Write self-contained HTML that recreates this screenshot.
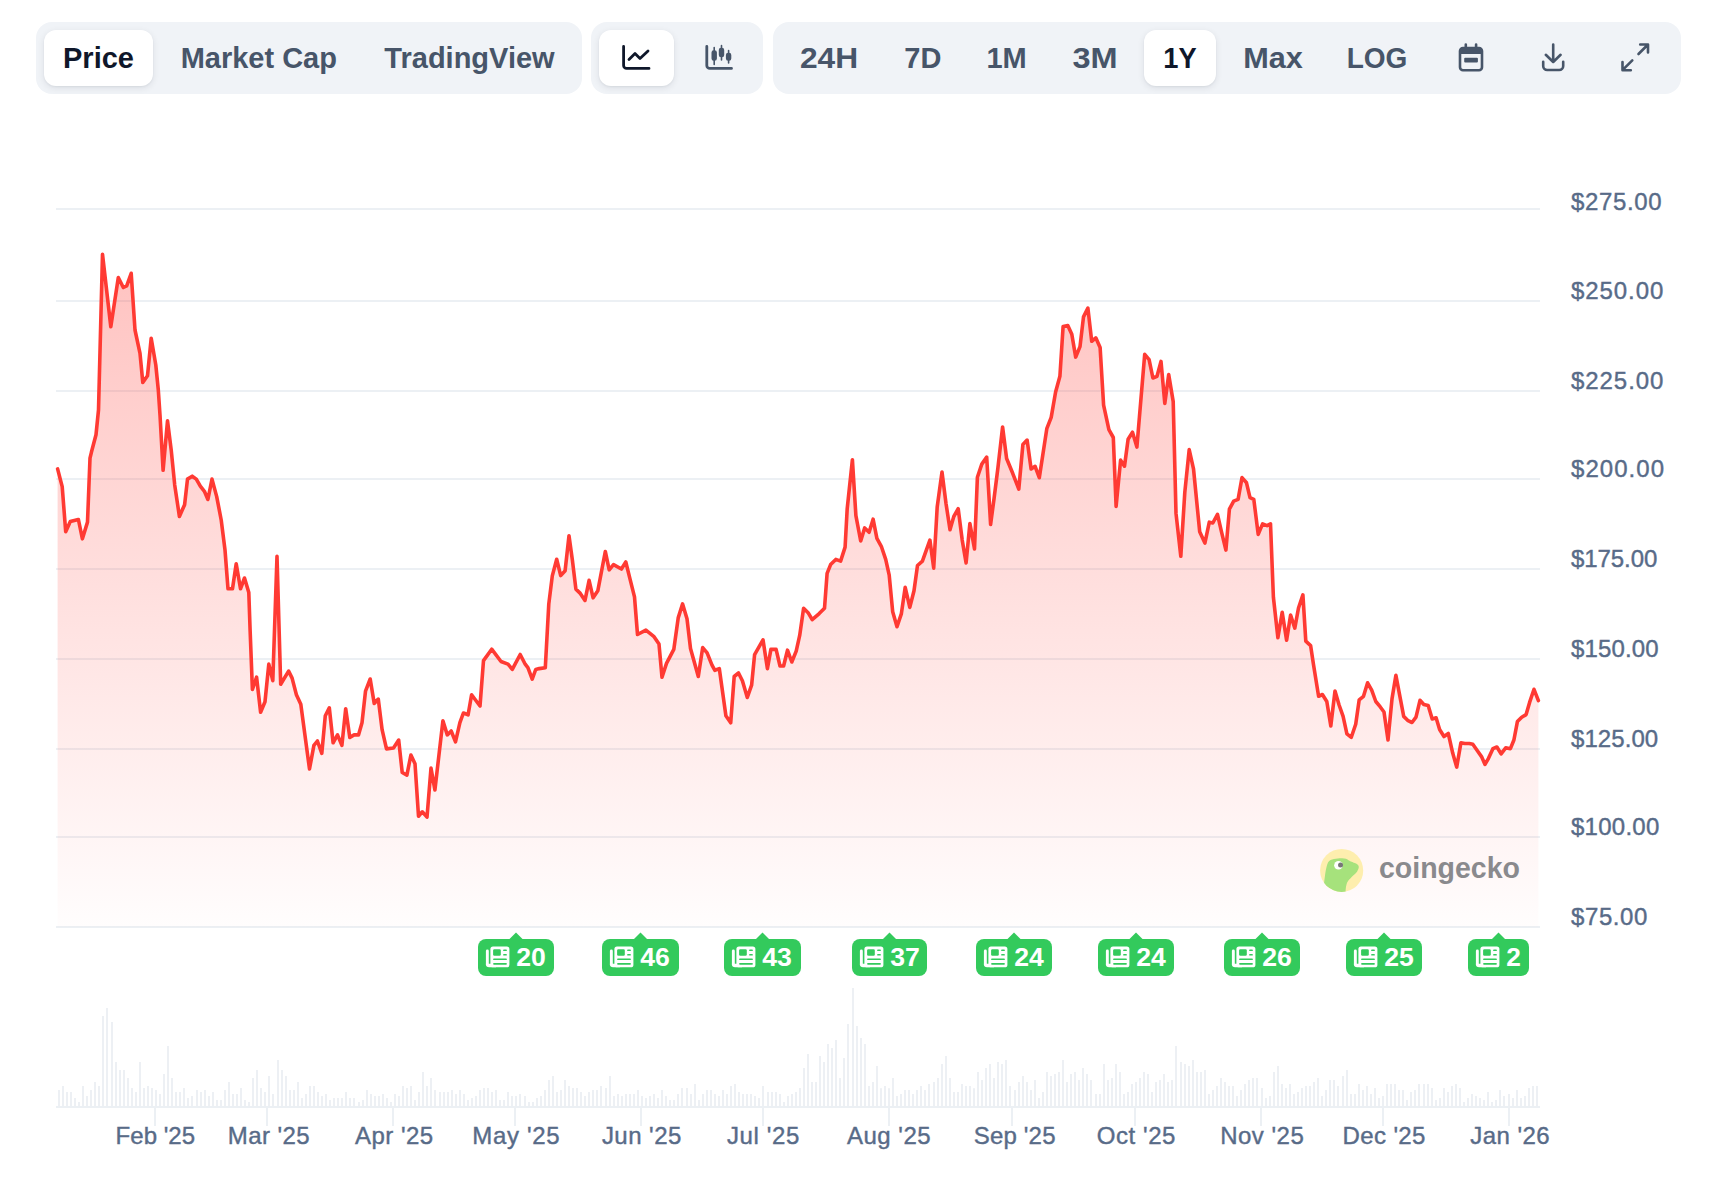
<!DOCTYPE html>
<html><head><meta charset="utf-8">
<style>
*{box-sizing:border-box;margin:0;padding:0}
html,body{width:1716px;height:1184px;background:#fff;overflow:hidden}
body{position:relative;font-family:"Liberation Sans",sans-serif}
.grp{position:absolute;top:22px;height:72px;background:#f0f3f7;border-radius:16px}
.sel{position:absolute;top:30px;height:56px;background:#fff;border-radius:12px;box-shadow:0 2px 7px rgba(15,23,42,0.09),0 1px 2px rgba(15,23,42,0.05)}
.t{position:absolute;top:37.8px;height:40px;line-height:40px;font-size:29px;font-weight:700;color:#475569;white-space:nowrap;transform:translateX(-50%)}
.t.on{color:#0f172a}
.ic{position:absolute}
svg.ch{position:absolute;left:0;top:0}
.yl{font-size:24px;fill:#586b88;stroke:#586b88;stroke-width:0.4px}
.xl{font-size:24px;fill:#586b88;stroke:#586b88;stroke-width:0.4px}
.bt{font-size:25px;font-weight:700;fill:#fff}
.logo{font-size:29.5px;font-weight:700;fill:#8a8a8d}
</style></head><body>
<div class="grp" style="left:36px;width:546px"></div>
<div class="grp" style="left:591px;width:172px"></div>
<div class="grp" style="left:773px;width:908px"></div>
<div class="sel" style="left:44px;width:109px"></div>
<div class="sel" style="left:599px;width:75px"></div>
<div class="sel" style="left:1144px;width:72px"></div>
<div class="t on" style="left:98.5px">Price</div>
<div class="t" style="left:258.8px">Market Cap</div>
<div class="t" style="left:469.5px">TradingView</div>
<div class="t" style="left:829px;transform:translateX(-50%) scaleX(1.094)">24H</div>
<div class="t" style="left:922.8px">7D</div>
<div class="t" style="left:1006.6px">1M</div>
<div class="t" style="left:1095px;transform:translateX(-50%) scaleX(1.12)">3M</div>
<div class="t on" style="left:1179.5px;transform:translateX(-50%) scaleX(0.94)">1Y</div>
<div class="t" style="left:1272.6px;transform:translateX(-50%) scaleX(1.057)">Max</div>
<div class="t" style="left:1377px;transform:translateX(-50%) scaleX(0.966)">LOG</div>
<svg class="ic" style="left:0;top:0" width="1716" height="100" viewBox="0 0 1716 100">
 <g fill="none" stroke="#0f172a" stroke-width="2.8" stroke-linecap="round" stroke-linejoin="round">
  <path d="M623.6,46.5 V65.4 a3,3 0 0 0 3,3 H649"/>
  <path d="M629,59.5 L635,53.5 L640,58.5 L648,51"/>
 </g>
 <g fill="none" stroke="#475569" stroke-width="2.8" stroke-linecap="round" stroke-linejoin="round">
  <path d="M706.8,46.5 V65.4 a3,3 0 0 0 3,3 H731.5"/>
 </g>
 <g fill="#475569" stroke="#475569" stroke-width="1.6" stroke-linecap="round">
  <path d="M714.2,47.5 V64.5 M721.5,45.5 V60 M728.6,50.5 V63"/>
  <rect x="712.3" y="51" width="3.8" height="9" rx="1.5"/>
  <rect x="719.6" y="48.5" width="3.8" height="8" rx="1.5"/>
  <rect x="726.7" y="53.5" width="3.8" height="6.5" rx="1.5"/>
 </g>
 <g fill="none" stroke="#475569" stroke-width="2.6" stroke-linecap="round" stroke-linejoin="round">
  <rect x="1460" y="48" width="22" height="22.2" rx="3"/>
  <path d="M1465.8,44.5 V48 M1476.1,44.5 V48"/>
  <path d="M1553.2,44.5 V61.5 M1545.8,54.8 L1553.2,62 L1560.6,54.8"/>
  <path d="M1543.2,61.8 V66 a4,4 0 0 0 4,4 H1559.2 a4,4 0 0 0 4,-4 V61.8"/>
  <path d="M1640.2,44.5 H1648 V52.5 M1647.5,45 L1638.5,54"/>
  <path d="M1622.5,62 V70.2 H1630.8 M1623,69.7 L1632.3,60.3"/>
 </g>
 <rect x="1460" y="48" width="22" height="6" fill="#475569"/>
 <rect x="1464.2" y="57.7" width="13.7" height="4.9" rx="1" fill="#475569"/>
</svg>
<svg class="ch" width="1716" height="1184" viewBox="0 0 1716 1184">
<defs><linearGradient id="ag" x1="0" y1="254" x2="0" y2="927" gradientUnits="userSpaceOnUse">
<stop offset="0" stop-color="#ff3a33" stop-opacity="0.31"/><stop offset="1" stop-color="#ff3a33" stop-opacity="0.01"/></linearGradient></defs>
<rect x="56" y="208" width="1484" height="2" fill="#ecf0f4"/>
<rect x="56" y="300" width="1484" height="2" fill="#ecf0f4"/>
<rect x="56" y="390" width="1484" height="2" fill="#ecf0f4"/>
<rect x="56" y="478" width="1484" height="2" fill="#ecf0f4"/>
<rect x="56" y="568" width="1484" height="2" fill="#ecf0f4"/>
<rect x="56" y="658" width="1484" height="2" fill="#ecf0f4"/>
<rect x="56" y="748" width="1484" height="2" fill="#ecf0f4"/>
<rect x="56" y="836" width="1484" height="2" fill="#ecf0f4"/>
<rect x="56" y="926" width="1484" height="2" fill="#ecf0f4"/>
<path d="M57.6,927 L57.6,468.9 62.2,486.6 65.7,531.7 70.3,521.6 78.4,519.5 82.4,538.8 87.5,522.1 90,458.2 91.4,452.3 96,434.8 98.5,410 102.5,254.2 110.8,326.7 118.3,277.5 123.3,287.5 126.7,285.8 131.2,273.3 135,330 140,353.3 142.8,382.5 147.5,375.8 151.2,338.3 155.8,365 158.3,390 160,415 163.1,470.3 167.5,420.8 171.2,449.9 174.7,484.9 179.4,516.4 184.6,504.7 187.5,479.1 192.2,476.2 196.3,479.1 200.3,486.1 204.4,491.3 207.9,499.5 212,479.1 216.7,496.6 221.2,520 225,550 228,588.8 232.5,588.8 236.2,563.8 240.5,588.8 244.5,578 248.8,592.5 250.1,630 252.4,689.4 256.6,677.2 260.6,712.2 265,701.7 268.8,664.1 272.8,680.7 277,556.2 280.7,684.2 288.6,671.1 292.1,678.1 296.4,694.7 300.8,704.3 309.5,769 313.9,745.4 317.4,741 321.8,753.3 325.3,715.7 329.3,707.8 333.1,742.8 337.5,734.9 341.9,745.4 345.7,708.7 349.8,737.5 354.1,734.9 358.5,734.9 362,722.7 365.5,691.2 370.2,679 374.2,703.4 378.3,699.1 382.1,729.7 386.5,748.9 393.5,748 398.7,740.1 402.2,772.5 406.9,775.1 410.9,755 415,763.7 418.5,816.2 422.3,811.8 427,817.1 431,768.1 434.9,790 442.9,720.9 447.3,734.9 451.2,731 455.5,741.9 459.9,722.7 463.4,713 468.1,714.8 471.6,694.7 480,706 483.5,660.6 491.7,649.2 501,661.5 508,664.1 512.3,669.3 520.2,654.5 525.2,664.2 527.9,667.7 532.2,679.1 535.7,669.5 539.2,668.6 545.3,667.7 548.8,603.9 552.3,575.9 556.7,559.3 560.7,575.6 565.1,570.7 569,535.7 572.4,560.2 575.9,589.1 580.3,593.4 585,600.4 589.1,580.3 593.1,597.8 597.8,590.8 605.3,551.5 609.2,569.8 613.5,564.6 621.4,569 625.8,562 630.1,579.4 634.5,596.9 637.5,634.5 645.9,630.1 653.7,636.3 659,644.1 662,677.3 666.5,663.4 673.8,649.4 678.2,617.9 682.6,603.9 687,618.8 690.5,648.5 698.3,676.5 702.7,647.6 707.1,652.9 712,665.1 714.9,670.3 719.3,668.6 725.9,715.8 730.7,722.8 734.2,676.5 738.5,673 742.4,680.8 747.3,697.4 751.6,685.2 754.6,654.6 763,639.8 767.4,668.6 770.9,649.4 776.1,649.4 780,666 783.6,666 787.5,650.2 791.8,662 796.2,651.1 799.7,635.4 803.6,608.3 808.1,612.7 812.2,619.7 819.2,613.6 824.5,608.3 827.1,573.4 830.6,564.6 835.8,559.4 840.6,561.1 845.1,547.1 847.2,508.7 852.4,459.7 855.9,515.7 860.7,541 864.7,527.9 869.1,532.3 873.1,519.2 876.9,538.4 881.3,546.3 885.7,559.4 889.2,575.1 892.7,611.8 897,626.7 901.4,613.6 905.2,587.3 909.8,607.4 914,590.8 917.5,565.5 922.4,561.1 929.9,540.1 933.7,568.1 937.2,506.9 942,472 946,503.4 950,529.7 953.8,516.5 958.2,508.7 962.2,540.1 966.1,562.9 969.9,523.5 974.5,548.9 977.4,477.2 981.8,464.1 986.7,457.1 990.6,524.4 994.1,498.2 997.9,468.1 1002.6,427 1006.6,458.5 1012.7,473.3 1018.8,489.1 1022.9,444.5 1027.1,440.1 1031.1,469 1035.1,466.3 1039.3,477.7 1046.8,428.7 1051.2,417.4 1055.6,392 1059.9,376.3 1063.1,326.5 1067.8,325.6 1071.8,334.3 1075.7,357.1 1080,346.6 1083.5,316.9 1087.9,308.1 1091.7,341.3 1095.8,337.8 1100.1,347.4 1103.6,405.1 1108.9,429.6 1113.3,437.5 1116.1,506.4 1120.6,460.1 1124.5,466.2 1128.1,439.2 1132.5,432.2 1136.9,447.1 1144.7,354.4 1149.1,359.7 1152.9,378 1157,376.3 1161,361.4 1164.8,403.4 1168.7,374.5 1173.2,401.6 1176,513.4 1180.8,556.3 1184.8,492.4 1189.2,449.6 1193.5,468.8 1199.7,531.8 1204.9,543.1 1209.3,522.2 1212.8,523 1217.5,514.3 1221.5,531.8 1225.9,550.1 1229.4,509.1 1233.7,501.2 1238.1,499.4 1242,477.6 1246.5,482.8 1250,497.7 1253.8,499.4 1258.2,534.4 1262.6,523.9 1267,525.7 1270.5,523.9 1273.4,597.3 1277.9,637.7 1282.2,612.3 1286.6,640.3 1290.6,615 1294.8,628.1 1298.5,608 1302.9,594.9 1305.8,641.2 1310.6,645.6 1313.4,663.9 1318.6,696.3 1322.4,694.5 1326.8,701.5 1330.8,726 1335,691 1339.1,705 1343.1,716.4 1346.9,733.8 1351.3,737.3 1355.7,724.2 1359.2,699.8 1363.5,696.3 1367.6,682.8 1371.7,690.1 1375.8,701.5 1380.1,706.7 1384,712 1388,740 1392,698.9 1395.9,675.3 1399.7,695.4 1403.7,716.4 1408.1,720.7 1412,722.5 1416,717.2 1420,700.3 1423.8,704.5 1428.2,705.5 1432.2,719 1436.1,717.8 1439.6,729.5 1444,736.5 1448.3,733.5 1452.7,753.1 1456.7,767.1 1460.9,742.9 1464.9,743.5 1469.3,743.5 1472.8,744.3 1477.2,750.5 1481.5,756.6 1485,764.4 1488.5,758.3 1492.9,748.7 1496.9,747 1501.1,753.9 1505.7,747.8 1510.4,748.7 1513.9,740 1517.4,721.6 1521.7,717.2 1526.1,714.6 1529.6,702.4 1534,689.3 1538.4,700.6 L1538.4,927 Z" fill="url(#ag)"/>
<polyline points="57.6,468.9 62.2,486.6 65.7,531.7 70.3,521.6 78.4,519.5 82.4,538.8 87.5,522.1 90,458.2 91.4,452.3 96,434.8 98.5,410 102.5,254.2 110.8,326.7 118.3,277.5 123.3,287.5 126.7,285.8 131.2,273.3 135,330 140,353.3 142.8,382.5 147.5,375.8 151.2,338.3 155.8,365 158.3,390 160,415 163.1,470.3 167.5,420.8 171.2,449.9 174.7,484.9 179.4,516.4 184.6,504.7 187.5,479.1 192.2,476.2 196.3,479.1 200.3,486.1 204.4,491.3 207.9,499.5 212,479.1 216.7,496.6 221.2,520 225,550 228,588.8 232.5,588.8 236.2,563.8 240.5,588.8 244.5,578 248.8,592.5 250.1,630 252.4,689.4 256.6,677.2 260.6,712.2 265,701.7 268.8,664.1 272.8,680.7 277,556.2 280.7,684.2 288.6,671.1 292.1,678.1 296.4,694.7 300.8,704.3 309.5,769 313.9,745.4 317.4,741 321.8,753.3 325.3,715.7 329.3,707.8 333.1,742.8 337.5,734.9 341.9,745.4 345.7,708.7 349.8,737.5 354.1,734.9 358.5,734.9 362,722.7 365.5,691.2 370.2,679 374.2,703.4 378.3,699.1 382.1,729.7 386.5,748.9 393.5,748 398.7,740.1 402.2,772.5 406.9,775.1 410.9,755 415,763.7 418.5,816.2 422.3,811.8 427,817.1 431,768.1 434.9,790 442.9,720.9 447.3,734.9 451.2,731 455.5,741.9 459.9,722.7 463.4,713 468.1,714.8 471.6,694.7 480,706 483.5,660.6 491.7,649.2 501,661.5 508,664.1 512.3,669.3 520.2,654.5 525.2,664.2 527.9,667.7 532.2,679.1 535.7,669.5 539.2,668.6 545.3,667.7 548.8,603.9 552.3,575.9 556.7,559.3 560.7,575.6 565.1,570.7 569,535.7 572.4,560.2 575.9,589.1 580.3,593.4 585,600.4 589.1,580.3 593.1,597.8 597.8,590.8 605.3,551.5 609.2,569.8 613.5,564.6 621.4,569 625.8,562 630.1,579.4 634.5,596.9 637.5,634.5 645.9,630.1 653.7,636.3 659,644.1 662,677.3 666.5,663.4 673.8,649.4 678.2,617.9 682.6,603.9 687,618.8 690.5,648.5 698.3,676.5 702.7,647.6 707.1,652.9 712,665.1 714.9,670.3 719.3,668.6 725.9,715.8 730.7,722.8 734.2,676.5 738.5,673 742.4,680.8 747.3,697.4 751.6,685.2 754.6,654.6 763,639.8 767.4,668.6 770.9,649.4 776.1,649.4 780,666 783.6,666 787.5,650.2 791.8,662 796.2,651.1 799.7,635.4 803.6,608.3 808.1,612.7 812.2,619.7 819.2,613.6 824.5,608.3 827.1,573.4 830.6,564.6 835.8,559.4 840.6,561.1 845.1,547.1 847.2,508.7 852.4,459.7 855.9,515.7 860.7,541 864.7,527.9 869.1,532.3 873.1,519.2 876.9,538.4 881.3,546.3 885.7,559.4 889.2,575.1 892.7,611.8 897,626.7 901.4,613.6 905.2,587.3 909.8,607.4 914,590.8 917.5,565.5 922.4,561.1 929.9,540.1 933.7,568.1 937.2,506.9 942,472 946,503.4 950,529.7 953.8,516.5 958.2,508.7 962.2,540.1 966.1,562.9 969.9,523.5 974.5,548.9 977.4,477.2 981.8,464.1 986.7,457.1 990.6,524.4 994.1,498.2 997.9,468.1 1002.6,427 1006.6,458.5 1012.7,473.3 1018.8,489.1 1022.9,444.5 1027.1,440.1 1031.1,469 1035.1,466.3 1039.3,477.7 1046.8,428.7 1051.2,417.4 1055.6,392 1059.9,376.3 1063.1,326.5 1067.8,325.6 1071.8,334.3 1075.7,357.1 1080,346.6 1083.5,316.9 1087.9,308.1 1091.7,341.3 1095.8,337.8 1100.1,347.4 1103.6,405.1 1108.9,429.6 1113.3,437.5 1116.1,506.4 1120.6,460.1 1124.5,466.2 1128.1,439.2 1132.5,432.2 1136.9,447.1 1144.7,354.4 1149.1,359.7 1152.9,378 1157,376.3 1161,361.4 1164.8,403.4 1168.7,374.5 1173.2,401.6 1176,513.4 1180.8,556.3 1184.8,492.4 1189.2,449.6 1193.5,468.8 1199.7,531.8 1204.9,543.1 1209.3,522.2 1212.8,523 1217.5,514.3 1221.5,531.8 1225.9,550.1 1229.4,509.1 1233.7,501.2 1238.1,499.4 1242,477.6 1246.5,482.8 1250,497.7 1253.8,499.4 1258.2,534.4 1262.6,523.9 1267,525.7 1270.5,523.9 1273.4,597.3 1277.9,637.7 1282.2,612.3 1286.6,640.3 1290.6,615 1294.8,628.1 1298.5,608 1302.9,594.9 1305.8,641.2 1310.6,645.6 1313.4,663.9 1318.6,696.3 1322.4,694.5 1326.8,701.5 1330.8,726 1335,691 1339.1,705 1343.1,716.4 1346.9,733.8 1351.3,737.3 1355.7,724.2 1359.2,699.8 1363.5,696.3 1367.6,682.8 1371.7,690.1 1375.8,701.5 1380.1,706.7 1384,712 1388,740 1392,698.9 1395.9,675.3 1399.7,695.4 1403.7,716.4 1408.1,720.7 1412,722.5 1416,717.2 1420,700.3 1423.8,704.5 1428.2,705.5 1432.2,719 1436.1,717.8 1439.6,729.5 1444,736.5 1448.3,733.5 1452.7,753.1 1456.7,767.1 1460.9,742.9 1464.9,743.5 1469.3,743.5 1472.8,744.3 1477.2,750.5 1481.5,756.6 1485,764.4 1488.5,758.3 1492.9,748.7 1496.9,747 1501.1,753.9 1505.7,747.8 1510.4,748.7 1513.9,740 1517.4,721.6 1521.7,717.2 1526.1,714.6 1529.6,702.4 1534,689.3 1538.4,700.6" fill="none" stroke="#ff3a33" stroke-width="3.6" stroke-linejoin="round" stroke-linecap="round"/>
<text x="1571" y="209.5" class="yl" textLength="90.60000000000001" lengthAdjust="spacing">$275.00</text>
<text x="1571" y="299" class="yl" textLength="92.3" lengthAdjust="spacing">$250.00</text>
<text x="1571" y="389" class="yl" textLength="92.4" lengthAdjust="spacing">$225.00</text>
<text x="1571" y="477" class="yl" textLength="93.0" lengthAdjust="spacing">$200.00</text>
<text x="1571" y="567" class="yl" textLength="86.3" lengthAdjust="spacing">$175.00</text>
<text x="1571" y="657" class="yl" textLength="87.7" lengthAdjust="spacing">$150.00</text>
<text x="1571" y="747" class="yl" textLength="87.2" lengthAdjust="spacing">$125.00</text>
<text x="1571" y="835" class="yl" textLength="88.3" lengthAdjust="spacing">$100.00</text>
<text x="1571" y="925" class="yl" textLength="76.4" lengthAdjust="spacing">$75.00</text>
<path d="M58,1090h2V1107h-2ZM62,1086h2V1107h-2ZM66,1092.1h2V1107h-2ZM70,1092.1h2V1107h-2ZM74,1098.1h2V1107h-2ZM78,1102.1h2V1107h-2ZM82,1086h2V1107h-2ZM86,1096h2V1107h-2ZM90,1090h2V1107h-2ZM94,1082.1h2V1107h-2ZM98,1086h2V1107h-2ZM102,1016.1h2V1107h-2ZM106,1007.9h2V1107h-2ZM111,1021.9h2V1107h-2ZM115,1062.1h2V1107h-2ZM119,1069.9h2V1107h-2ZM123,1069.9h2V1107h-2ZM127,1078.1h2V1107h-2ZM131,1088h2V1107h-2ZM135,1092.1h2V1107h-2ZM139,1062.1h2V1107h-2ZM143,1088h2V1107h-2ZM147,1086h2V1107h-2ZM151,1088h2V1107h-2ZM155,1090h2V1107h-2ZM159,1094.1h2V1107h-2ZM163,1074h2V1107h-2ZM167,1046h2V1107h-2ZM171,1078.1h2V1107h-2ZM175,1092.1h2V1107h-2ZM179,1092.1h2V1107h-2ZM183,1088h2V1107h-2ZM187,1098.1h2V1107h-2ZM191,1096h2V1107h-2ZM196,1090h2V1107h-2ZM200,1092.1h2V1107h-2ZM204,1090h2V1107h-2ZM208,1096h2V1107h-2ZM212,1092.1h2V1107h-2ZM216,1100h2V1107h-2ZM220,1100h2V1107h-2ZM224,1090h2V1107h-2ZM228,1082.1h2V1107h-2ZM232,1094.1h2V1107h-2ZM236,1094.1h2V1107h-2ZM240,1088h2V1107h-2ZM244,1100h2V1107h-2ZM248,1102.1h2V1107h-2ZM252,1078.1h2V1107h-2ZM256,1070.1h2V1107h-2ZM260,1088h2V1107h-2ZM264,1092.1h2V1107h-2ZM268,1076.1h2V1107h-2ZM272,1094.1h2V1107h-2ZM277,1060h2V1107h-2ZM281,1070.1h2V1107h-2ZM285,1076.1h2V1107h-2ZM289,1090.1h2V1107h-2ZM293,1090.1h2V1107h-2ZM297,1082.1h2V1107h-2ZM301,1098h2V1107h-2ZM305,1094.1h2V1107h-2ZM309,1086h2V1107h-2ZM313,1086h2V1107h-2ZM317,1092.1h2V1107h-2ZM321,1096.1h2V1107h-2ZM325,1094.1h2V1107h-2ZM329,1100h2V1107h-2ZM333,1098h2V1107h-2ZM337,1098h2V1107h-2ZM341,1098h2V1107h-2ZM345,1092.1h2V1107h-2ZM349,1098h2V1107h-2ZM353,1098h2V1107h-2ZM358,1102.1h2V1107h-2ZM362,1100h2V1107h-2ZM366,1090.1h2V1107h-2ZM370,1094.1h2V1107h-2ZM374,1096.1h2V1107h-2ZM378,1096.1h2V1107h-2ZM382,1094.1h2V1107h-2ZM386,1098h2V1107h-2ZM390,1102.1h2V1107h-2ZM394,1094.1h2V1107h-2ZM398,1096.1h2V1107h-2ZM402,1086h2V1107h-2ZM406,1088h2V1107h-2ZM410,1086h2V1107h-2ZM414,1100h2V1107h-2ZM418,1092.1h2V1107h-2ZM422,1072h2V1107h-2ZM426,1086h2V1107h-2ZM430,1078.1h2V1107h-2ZM434,1090.1h2V1107h-2ZM439,1092.1h2V1107h-2ZM443,1092.1h2V1107h-2ZM447,1092.1h2V1107h-2ZM451,1090.1h2V1107h-2ZM455,1094h2V1107h-2ZM459,1090.1h2V1107h-2ZM463,1094h2V1107h-2ZM467,1100h2V1107h-2ZM471,1098h2V1107h-2ZM475,1096h2V1107h-2ZM479,1090.1h2V1107h-2ZM483,1088.1h2V1107h-2ZM487,1088.1h2V1107h-2ZM491,1092.1h2V1107h-2ZM495,1090.1h2V1107h-2ZM499,1100h2V1107h-2ZM503,1100h2V1107h-2ZM507,1092.1h2V1107h-2ZM511,1096h2V1107h-2ZM515,1096h2V1107h-2ZM519,1094h2V1107h-2ZM524,1096h2V1107h-2ZM528,1102h2V1107h-2ZM532,1102h2V1107h-2ZM536,1098h2V1107h-2ZM540,1096h2V1107h-2ZM544,1090.1h2V1107h-2ZM548,1080h2V1107h-2ZM552,1076.1h2V1107h-2ZM556,1092.1h2V1107h-2ZM560,1090.1h2V1107h-2ZM564,1080h2V1107h-2ZM568,1086.1h2V1107h-2ZM572,1088.1h2V1107h-2ZM576,1088.1h2V1107h-2ZM580,1092.1h2V1107h-2ZM584,1096h2V1107h-2ZM588,1092.1h2V1107h-2ZM592,1090.1h2V1107h-2ZM596,1090.1h2V1107h-2ZM600,1086.1h2V1107h-2ZM605,1088.1h2V1107h-2ZM609,1076.1h2V1107h-2ZM613,1096h2V1107h-2ZM617,1094.1h2V1107h-2ZM621,1096.1h2V1107h-2ZM625,1094.1h2V1107h-2ZM629,1094.1h2V1107h-2ZM633,1094.1h2V1107h-2ZM637,1090.1h2V1107h-2ZM641,1096.1h2V1107h-2ZM645,1098h2V1107h-2ZM649,1096.1h2V1107h-2ZM653,1094.1h2V1107h-2ZM657,1098h2V1107h-2ZM661,1090.1h2V1107h-2ZM665,1096.1h2V1107h-2ZM669,1100h2V1107h-2ZM673,1100h2V1107h-2ZM677,1094.1h2V1107h-2ZM681,1088h2V1107h-2ZM686,1088h2V1107h-2ZM690,1094.1h2V1107h-2ZM694,1084.1h2V1107h-2ZM698,1100h2V1107h-2ZM702,1094.1h2V1107h-2ZM706,1090.1h2V1107h-2ZM710,1090.1h2V1107h-2ZM714,1094.1h2V1107h-2ZM718,1096.1h2V1107h-2ZM722,1090.1h2V1107h-2ZM726,1094.1h2V1107h-2ZM730,1086h2V1107h-2ZM734,1084.1h2V1107h-2ZM738,1092.1h2V1107h-2ZM742,1094.1h2V1107h-2ZM746,1094.1h2V1107h-2ZM750,1094.1h2V1107h-2ZM754,1096.1h2V1107h-2ZM758,1098h2V1107h-2ZM762,1086h2V1107h-2ZM767,1092.1h2V1107h-2ZM771,1092.1h2V1107h-2ZM775,1092.1h2V1107h-2ZM779,1094.1h2V1107h-2ZM783,1102.1h2V1107h-2ZM787,1096.1h2V1107h-2ZM791,1094.1h2V1107h-2ZM795,1092.1h2V1107h-2ZM799,1088.1h2V1107h-2ZM803,1068h2V1107h-2ZM807,1054h2V1107h-2ZM811,1082.1h2V1107h-2ZM815,1082.1h2V1107h-2ZM819,1056h2V1107h-2ZM823,1062.1h2V1107h-2ZM827,1044h2V1107h-2ZM831,1048.1h2V1107h-2ZM835,1040h2V1107h-2ZM839,1078.1h2V1107h-2ZM843,1058.1h2V1107h-2ZM847,1024.1h2V1107h-2ZM852,987.9h2V1107h-2ZM856,1026h2V1107h-2ZM860,1038h2V1107h-2ZM864,1044h2V1107h-2ZM868,1086.1h2V1107h-2ZM872,1082.1h2V1107h-2ZM876,1066h2V1107h-2ZM880,1088.2h2V1107h-2ZM884,1086.1h2V1107h-2ZM888,1088.2h2V1107h-2ZM892,1078.1h2V1107h-2ZM896,1096.1h2V1107h-2ZM900,1094.1h2V1107h-2ZM904,1090.1h2V1107h-2ZM908,1090.1h2V1107h-2ZM912,1094.1h2V1107h-2ZM916,1090.1h2V1107h-2ZM920,1086.1h2V1107h-2ZM924,1090.1h2V1107h-2ZM928,1084.1h2V1107h-2ZM933,1082.1h2V1107h-2ZM937,1078.1h2V1107h-2ZM941,1064h2V1107h-2ZM945,1056h2V1107h-2ZM949,1078.1h2V1107h-2ZM953,1092.1h2V1107h-2ZM957,1092.1h2V1107h-2ZM961,1084.1h2V1107h-2ZM965,1086.1h2V1107h-2ZM969,1086.1h2V1107h-2ZM973,1088.2h2V1107h-2ZM977,1072.1h2V1107h-2ZM981,1080h2V1107h-2ZM985,1068h2V1107h-2ZM989,1064h2V1107h-2ZM993,1078.1h2V1107h-2ZM997,1062.1h2V1107h-2ZM1001,1064.1h2V1107h-2ZM1005,1060.1h2V1107h-2ZM1009,1086.1h2V1107h-2ZM1014,1090h2V1107h-2ZM1018,1082.1h2V1107h-2ZM1022,1076.1h2V1107h-2ZM1026,1082.1h2V1107h-2ZM1030,1090h2V1107h-2ZM1034,1080h2V1107h-2ZM1038,1098.1h2V1107h-2ZM1042,1092h2V1107h-2ZM1046,1072.1h2V1107h-2ZM1050,1076.1h2V1107h-2ZM1054,1074.1h2V1107h-2ZM1058,1072.1h2V1107h-2ZM1062,1060.1h2V1107h-2ZM1066,1082.1h2V1107h-2ZM1070,1074.1h2V1107h-2ZM1074,1072.1h2V1107h-2ZM1078,1080h2V1107h-2ZM1082,1068h2V1107h-2ZM1086,1074.1h2V1107h-2ZM1090,1080h2V1107h-2ZM1095,1094h2V1107h-2ZM1099,1094h2V1107h-2ZM1103,1064.1h2V1107h-2ZM1107,1080h2V1107h-2ZM1111,1078h2V1107h-2ZM1115,1064.1h2V1107h-2ZM1119,1072.1h2V1107h-2ZM1123,1094h2V1107h-2ZM1127,1092h2V1107h-2ZM1131,1084h2V1107h-2ZM1135,1082.1h2V1107h-2ZM1139,1078h2V1107h-2ZM1143,1072.1h2V1107h-2ZM1147,1074.1h2V1107h-2ZM1151,1092h2V1107h-2ZM1155,1082.1h2V1107h-2ZM1159,1080h2V1107h-2ZM1163,1074.1h2V1107h-2ZM1167,1082.1h2V1107h-2ZM1171,1080h2V1107h-2ZM1175,1046.1h2V1107h-2ZM1180,1062.1h2V1107h-2ZM1184,1064.1h2V1107h-2ZM1188,1066h2V1107h-2ZM1192,1060.1h2V1107h-2ZM1196,1072.1h2V1107h-2ZM1200,1072.1h2V1107h-2ZM1204,1070.1h2V1107h-2ZM1208,1094h2V1107h-2ZM1212,1090h2V1107h-2ZM1216,1086.1h2V1107h-2ZM1220,1078h2V1107h-2ZM1224,1082.1h2V1107h-2ZM1228,1086.1h2V1107h-2ZM1232,1086.1h2V1107h-2ZM1236,1096h2V1107h-2ZM1240,1090h2V1107h-2ZM1244,1084h2V1107h-2ZM1248,1080h2V1107h-2ZM1252,1078h2V1107h-2ZM1256,1078h2V1107h-2ZM1261,1088.1h2V1107h-2ZM1265,1098.1h2V1107h-2ZM1269,1096h2V1107h-2ZM1273,1072.1h2V1107h-2ZM1277,1066h2V1107h-2ZM1281,1084h2V1107h-2ZM1285,1088.1h2V1107h-2ZM1289,1084h2V1107h-2ZM1293,1094h2V1107h-2ZM1297,1092h2V1107h-2ZM1301,1088.1h2V1107h-2ZM1305,1086.1h2V1107h-2ZM1309,1086.1h2V1107h-2ZM1313,1082.1h2V1107h-2ZM1317,1078h2V1107h-2ZM1321,1096h2V1107h-2ZM1325,1090h2V1107h-2ZM1329,1080h2V1107h-2ZM1333,1080h2V1107h-2ZM1337,1086.1h2V1107h-2ZM1342,1076.1h2V1107h-2ZM1346,1070.1h2V1107h-2ZM1350,1094h2V1107h-2ZM1354,1094h2V1107h-2ZM1358,1084h2V1107h-2ZM1362,1090h2V1107h-2ZM1366,1086.1h2V1107h-2ZM1370,1094h2V1107h-2ZM1374,1088.1h2V1107h-2ZM1378,1098h2V1107h-2ZM1382,1096.1h2V1107h-2ZM1386,1084.1h2V1107h-2ZM1390,1084.1h2V1107h-2ZM1394,1084.1h2V1107h-2ZM1398,1090h2V1107h-2ZM1402,1090h2V1107h-2ZM1406,1100h2V1107h-2ZM1410,1092h2V1107h-2ZM1414,1090h2V1107h-2ZM1418,1084.1h2V1107h-2ZM1423,1084.1h2V1107h-2ZM1427,1084.1h2V1107h-2ZM1431,1088h2V1107h-2ZM1435,1100h2V1107h-2ZM1439,1098h2V1107h-2ZM1443,1088h2V1107h-2ZM1447,1092h2V1107h-2ZM1451,1086.1h2V1107h-2ZM1455,1084.1h2V1107h-2ZM1459,1088h2V1107h-2ZM1463,1102h2V1107h-2ZM1467,1098h2V1107h-2ZM1471,1094h2V1107h-2ZM1475,1096.1h2V1107h-2ZM1479,1098h2V1107h-2ZM1483,1100h2V1107h-2ZM1487,1092h2V1107h-2ZM1491,1102h2V1107h-2ZM1495,1100h2V1107h-2ZM1499,1090h2V1107h-2ZM1503,1096.1h2V1107h-2ZM1508,1094h2V1107h-2ZM1512,1098h2V1107h-2ZM1516,1090h2V1107h-2ZM1520,1098h2V1107h-2ZM1524,1096.1h2V1107h-2ZM1528,1088h2V1107h-2ZM1532,1086.1h2V1107h-2ZM1536,1086.1h2V1107h-2Z" fill="#edf0f4"/>
<rect x="56" y="1106" width="1484" height="2" fill="#ecf0f4"/>
<rect x="154" y="1107" width="2" height="19" fill="#ecf0f4"/>
<text x="115.60000000000001" y="1144" class="xl" textLength="79.5" lengthAdjust="spacing">Feb '25</text>
<rect x="266" y="1107" width="2" height="19" fill="#ecf0f4"/>
<text x="227.7" y="1144" class="xl" textLength="81.9" lengthAdjust="spacing">Mar '25</text>
<rect x="392" y="1107" width="2" height="19" fill="#ecf0f4"/>
<text x="354.9" y="1144" class="xl" textLength="78.3" lengthAdjust="spacing">Apr '25</text>
<rect x="514" y="1107" width="2" height="19" fill="#ecf0f4"/>
<text x="472.3" y="1144" class="xl" textLength="87.2" lengthAdjust="spacing">May '25</text>
<rect x="640" y="1107" width="2" height="19" fill="#ecf0f4"/>
<text x="601.9000000000001" y="1144" class="xl" textLength="79.4" lengthAdjust="spacing">Jun '25</text>
<rect x="762" y="1107" width="2" height="19" fill="#ecf0f4"/>
<text x="726.9000000000001" y="1144" class="xl" textLength="72.5" lengthAdjust="spacing">Jul '25</text>
<rect x="888" y="1107" width="2" height="19" fill="#ecf0f4"/>
<text x="847.0" y="1144" class="xl" textLength="83.6" lengthAdjust="spacing">Aug '25</text>
<rect x="1011" y="1107" width="2" height="19" fill="#ecf0f4"/>
<text x="973.7" y="1144" class="xl" textLength="81.8" lengthAdjust="spacing">Sep '25</text>
<rect x="1134" y="1107" width="2" height="19" fill="#ecf0f4"/>
<text x="1096.8" y="1144" class="xl" textLength="78.6" lengthAdjust="spacing">Oct '25</text>
<rect x="1260" y="1107" width="2" height="19" fill="#ecf0f4"/>
<text x="1220.2" y="1144" class="xl" textLength="83.6" lengthAdjust="spacing">Nov '25</text>
<rect x="1382" y="1107" width="2" height="19" fill="#ecf0f4"/>
<text x="1342.6000000000001" y="1144" class="xl" textLength="82.8" lengthAdjust="spacing">Dec '25</text>
<rect x="1508" y="1107" width="2" height="19" fill="#ecf0f4"/>
<text x="1470.2" y="1144" class="xl" textLength="79.4" lengthAdjust="spacing">Jan '26</text>
<rect x="478" y="939" width="76" height="37" rx="8" fill="#33ca5c"/>
<path d="M509,939.5 L516,932.5 L523,939.5Z" fill="#33ca5c"/>
<g transform="translate(480,940)"><rect x="10.4" y="6.5" width="19" height="20.8" rx="2.6" fill="#fff"/><rect x="5.9" y="9.6" width="2.9" height="16" rx="1.45" fill="#fff"/><path d="M5.9,23.8 H16 V27.3 H9.1 A3.2,3.2 0 0 1 5.9,24.1 Z" fill="#fff"/><path d="M8.8,24.3 V23 A2.2,2.2 0 0 0 11,25.2 Z" fill="#fff"/><rect x="13.1" y="9.2" width="7.7" height="6.5" rx="1.3" fill="#33ca5c"/><rect x="23.1" y="9.4" width="3.8" height="1.7" rx="0.85" fill="#33ca5c"/><rect x="23.1" y="13.9" width="3.8" height="1.7" rx="0.85" fill="#33ca5c"/><rect x="13.1" y="18.4" width="13.8" height="1.7" rx="0.85" fill="#33ca5c"/><rect x="13.1" y="22.9" width="13.8" height="1.8" rx="0.9" fill="#33ca5c"/></g>
<text x="516.2" y="966" class="bt" textLength="29.6" lengthAdjust="spacingAndGlyphs">20</text>
<rect x="602" y="939" width="77" height="37" rx="8" fill="#33ca5c"/>
<path d="M633.5,939.5 L640.5,932.5 L647.5,939.5Z" fill="#33ca5c"/>
<g transform="translate(604,940)"><rect x="10.4" y="6.5" width="19" height="20.8" rx="2.6" fill="#fff"/><rect x="5.9" y="9.6" width="2.9" height="16" rx="1.45" fill="#fff"/><path d="M5.9,23.8 H16 V27.3 H9.1 A3.2,3.2 0 0 1 5.9,24.1 Z" fill="#fff"/><path d="M8.8,24.3 V23 A2.2,2.2 0 0 0 11,25.2 Z" fill="#fff"/><rect x="13.1" y="9.2" width="7.7" height="6.5" rx="1.3" fill="#33ca5c"/><rect x="23.1" y="9.4" width="3.8" height="1.7" rx="0.85" fill="#33ca5c"/><rect x="23.1" y="13.9" width="3.8" height="1.7" rx="0.85" fill="#33ca5c"/><rect x="13.1" y="18.4" width="13.8" height="1.7" rx="0.85" fill="#33ca5c"/><rect x="13.1" y="22.9" width="13.8" height="1.8" rx="0.9" fill="#33ca5c"/></g>
<text x="640.2" y="966" class="bt" textLength="29.6" lengthAdjust="spacingAndGlyphs">46</text>
<rect x="724" y="939" width="77" height="37" rx="8" fill="#33ca5c"/>
<path d="M755.5,939.5 L762.5,932.5 L769.5,939.5Z" fill="#33ca5c"/>
<g transform="translate(726,940)"><rect x="10.4" y="6.5" width="19" height="20.8" rx="2.6" fill="#fff"/><rect x="5.9" y="9.6" width="2.9" height="16" rx="1.45" fill="#fff"/><path d="M5.9,23.8 H16 V27.3 H9.1 A3.2,3.2 0 0 1 5.9,24.1 Z" fill="#fff"/><path d="M8.8,24.3 V23 A2.2,2.2 0 0 0 11,25.2 Z" fill="#fff"/><rect x="13.1" y="9.2" width="7.7" height="6.5" rx="1.3" fill="#33ca5c"/><rect x="23.1" y="9.4" width="3.8" height="1.7" rx="0.85" fill="#33ca5c"/><rect x="23.1" y="13.9" width="3.8" height="1.7" rx="0.85" fill="#33ca5c"/><rect x="13.1" y="18.4" width="13.8" height="1.7" rx="0.85" fill="#33ca5c"/><rect x="13.1" y="22.9" width="13.8" height="1.8" rx="0.9" fill="#33ca5c"/></g>
<text x="762.2" y="966" class="bt" textLength="29.6" lengthAdjust="spacingAndGlyphs">43</text>
<rect x="852" y="939" width="75" height="37" rx="8" fill="#33ca5c"/>
<path d="M882.5,939.5 L889.5,932.5 L896.5,939.5Z" fill="#33ca5c"/>
<g transform="translate(854,940)"><rect x="10.4" y="6.5" width="19" height="20.8" rx="2.6" fill="#fff"/><rect x="5.9" y="9.6" width="2.9" height="16" rx="1.45" fill="#fff"/><path d="M5.9,23.8 H16 V27.3 H9.1 A3.2,3.2 0 0 1 5.9,24.1 Z" fill="#fff"/><path d="M8.8,24.3 V23 A2.2,2.2 0 0 0 11,25.2 Z" fill="#fff"/><rect x="13.1" y="9.2" width="7.7" height="6.5" rx="1.3" fill="#33ca5c"/><rect x="23.1" y="9.4" width="3.8" height="1.7" rx="0.85" fill="#33ca5c"/><rect x="23.1" y="13.9" width="3.8" height="1.7" rx="0.85" fill="#33ca5c"/><rect x="13.1" y="18.4" width="13.8" height="1.7" rx="0.85" fill="#33ca5c"/><rect x="13.1" y="22.9" width="13.8" height="1.8" rx="0.9" fill="#33ca5c"/></g>
<text x="890.2" y="966" class="bt" textLength="29.6" lengthAdjust="spacingAndGlyphs">37</text>
<rect x="976" y="939" width="76" height="37" rx="8" fill="#33ca5c"/>
<path d="M1007,939.5 L1014,932.5 L1021,939.5Z" fill="#33ca5c"/>
<g transform="translate(978,940)"><rect x="10.4" y="6.5" width="19" height="20.8" rx="2.6" fill="#fff"/><rect x="5.9" y="9.6" width="2.9" height="16" rx="1.45" fill="#fff"/><path d="M5.9,23.8 H16 V27.3 H9.1 A3.2,3.2 0 0 1 5.9,24.1 Z" fill="#fff"/><path d="M8.8,24.3 V23 A2.2,2.2 0 0 0 11,25.2 Z" fill="#fff"/><rect x="13.1" y="9.2" width="7.7" height="6.5" rx="1.3" fill="#33ca5c"/><rect x="23.1" y="9.4" width="3.8" height="1.7" rx="0.85" fill="#33ca5c"/><rect x="23.1" y="13.9" width="3.8" height="1.7" rx="0.85" fill="#33ca5c"/><rect x="13.1" y="18.4" width="13.8" height="1.7" rx="0.85" fill="#33ca5c"/><rect x="13.1" y="22.9" width="13.8" height="1.8" rx="0.9" fill="#33ca5c"/></g>
<text x="1014.2" y="966" class="bt" textLength="29.6" lengthAdjust="spacingAndGlyphs">24</text>
<rect x="1098" y="939" width="76" height="37" rx="8" fill="#33ca5c"/>
<path d="M1129,939.5 L1136,932.5 L1143,939.5Z" fill="#33ca5c"/>
<g transform="translate(1100,940)"><rect x="10.4" y="6.5" width="19" height="20.8" rx="2.6" fill="#fff"/><rect x="5.9" y="9.6" width="2.9" height="16" rx="1.45" fill="#fff"/><path d="M5.9,23.8 H16 V27.3 H9.1 A3.2,3.2 0 0 1 5.9,24.1 Z" fill="#fff"/><path d="M8.8,24.3 V23 A2.2,2.2 0 0 0 11,25.2 Z" fill="#fff"/><rect x="13.1" y="9.2" width="7.7" height="6.5" rx="1.3" fill="#33ca5c"/><rect x="23.1" y="9.4" width="3.8" height="1.7" rx="0.85" fill="#33ca5c"/><rect x="23.1" y="13.9" width="3.8" height="1.7" rx="0.85" fill="#33ca5c"/><rect x="13.1" y="18.4" width="13.8" height="1.7" rx="0.85" fill="#33ca5c"/><rect x="13.1" y="22.9" width="13.8" height="1.8" rx="0.9" fill="#33ca5c"/></g>
<text x="1136.2" y="966" class="bt" textLength="29.6" lengthAdjust="spacingAndGlyphs">24</text>
<rect x="1224" y="939" width="76" height="37" rx="8" fill="#33ca5c"/>
<path d="M1255,939.5 L1262,932.5 L1269,939.5Z" fill="#33ca5c"/>
<g transform="translate(1226,940)"><rect x="10.4" y="6.5" width="19" height="20.8" rx="2.6" fill="#fff"/><rect x="5.9" y="9.6" width="2.9" height="16" rx="1.45" fill="#fff"/><path d="M5.9,23.8 H16 V27.3 H9.1 A3.2,3.2 0 0 1 5.9,24.1 Z" fill="#fff"/><path d="M8.8,24.3 V23 A2.2,2.2 0 0 0 11,25.2 Z" fill="#fff"/><rect x="13.1" y="9.2" width="7.7" height="6.5" rx="1.3" fill="#33ca5c"/><rect x="23.1" y="9.4" width="3.8" height="1.7" rx="0.85" fill="#33ca5c"/><rect x="23.1" y="13.9" width="3.8" height="1.7" rx="0.85" fill="#33ca5c"/><rect x="13.1" y="18.4" width="13.8" height="1.7" rx="0.85" fill="#33ca5c"/><rect x="13.1" y="22.9" width="13.8" height="1.8" rx="0.9" fill="#33ca5c"/></g>
<text x="1262.2" y="966" class="bt" textLength="29.6" lengthAdjust="spacingAndGlyphs">26</text>
<rect x="1346" y="939" width="76" height="37" rx="8" fill="#33ca5c"/>
<path d="M1377,939.5 L1384,932.5 L1391,939.5Z" fill="#33ca5c"/>
<g transform="translate(1348,940)"><rect x="10.4" y="6.5" width="19" height="20.8" rx="2.6" fill="#fff"/><rect x="5.9" y="9.6" width="2.9" height="16" rx="1.45" fill="#fff"/><path d="M5.9,23.8 H16 V27.3 H9.1 A3.2,3.2 0 0 1 5.9,24.1 Z" fill="#fff"/><path d="M8.8,24.3 V23 A2.2,2.2 0 0 0 11,25.2 Z" fill="#fff"/><rect x="13.1" y="9.2" width="7.7" height="6.5" rx="1.3" fill="#33ca5c"/><rect x="23.1" y="9.4" width="3.8" height="1.7" rx="0.85" fill="#33ca5c"/><rect x="23.1" y="13.9" width="3.8" height="1.7" rx="0.85" fill="#33ca5c"/><rect x="13.1" y="18.4" width="13.8" height="1.7" rx="0.85" fill="#33ca5c"/><rect x="13.1" y="22.9" width="13.8" height="1.8" rx="0.9" fill="#33ca5c"/></g>
<text x="1384.2" y="966" class="bt" textLength="29.6" lengthAdjust="spacingAndGlyphs">25</text>
<rect x="1468" y="939" width="61" height="37" rx="8" fill="#33ca5c"/>
<path d="M1491.5,939.5 L1498.5,932.5 L1505.5,939.5Z" fill="#33ca5c"/>
<g transform="translate(1470,940)"><rect x="10.4" y="6.5" width="19" height="20.8" rx="2.6" fill="#fff"/><rect x="5.9" y="9.6" width="2.9" height="16" rx="1.45" fill="#fff"/><path d="M5.9,23.8 H16 V27.3 H9.1 A3.2,3.2 0 0 1 5.9,24.1 Z" fill="#fff"/><path d="M8.8,24.3 V23 A2.2,2.2 0 0 0 11,25.2 Z" fill="#fff"/><rect x="13.1" y="9.2" width="7.7" height="6.5" rx="1.3" fill="#33ca5c"/><rect x="23.1" y="9.4" width="3.8" height="1.7" rx="0.85" fill="#33ca5c"/><rect x="23.1" y="13.9" width="3.8" height="1.7" rx="0.85" fill="#33ca5c"/><rect x="13.1" y="18.4" width="13.8" height="1.7" rx="0.85" fill="#33ca5c"/><rect x="13.1" y="22.9" width="13.8" height="1.8" rx="0.9" fill="#33ca5c"/></g>
<text x="1506.2" y="966" class="bt" textLength="14.6" lengthAdjust="spacingAndGlyphs">2</text>
<defs><clipPath id="lc"><circle r="21.55"/></clipPath></defs><g transform="translate(1341.65,870.45)"><circle r="21.55" fill="#feeeae"/><path clip-path="url(#lc)" d="M-17.6,12.5 C-16.5,5 -16,-3 -13.5,-8.3 C-11,-11.5 -5,-12 0,-12.1 C3,-12.2 5.5,-11.5 7.2,-10 C10,-8.6 12,-8 13.2,-7.4 C16,-6.3 17.5,-4.5 17.1,-3.1 C16.8,-1 16,0 15.4,1.2 C13,4 10.5,5.8 8.9,7.7 C7,9.5 5.8,11 5.4,12.4 C4.5,15 4,18 3.9,22 L-2,24 L-18,14 Z" fill="#a6e27c"/><circle cx="-3.2" cy="-5.2" r="4.3" fill="#fff"/><circle cx="-1.1" cy="-5.5" r="2.5" fill="#777"/></g>
<text x="1379" y="878" class="logo" textLength="141" lengthAdjust="spacingAndGlyphs">coingecko</text>
</svg>
</body></html>
